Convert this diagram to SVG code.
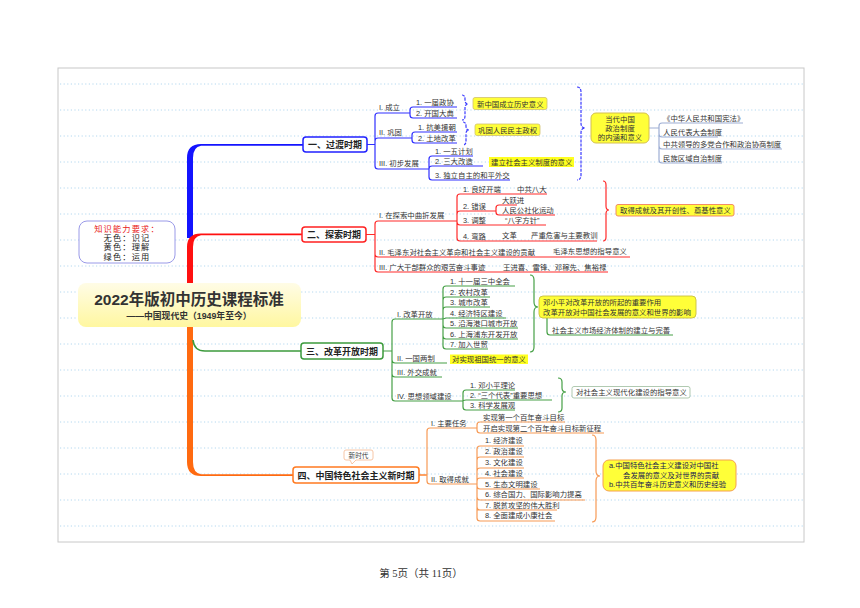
<svg xmlns="http://www.w3.org/2000/svg" width="860" height="608" viewBox="0 0 860 608">
<style>
text{font-family:"Liberation Sans","Noto Sans CJK SC",sans-serif}
.t{font-size:7.4px;fill:#333}
.n{font-size:9px;font-weight:bold;text-anchor:middle;fill:#222}
.sr{font-family:"Liberation Serif","Noto Sans CJK SC",serif}
.lg{font-size:8.2px;letter-spacing:1.2px;text-anchor:middle;fill:#222}
.grid{stroke:#b4d8ef;stroke-width:1;stroke-dasharray:1.2 2.4}
.cb{fill:none;stroke:#3030ff;stroke-width:1.2}
.cr{fill:none;stroke:#ff2a2a;stroke-width:1.2}
.cg{fill:none;stroke:#46a046;stroke-width:1.2}
.co{fill:none;stroke:#f79a55;stroke-width:1.2}
.cs{fill:none;stroke:#9eaed4;stroke-width:1.2}
.brb{fill:none;stroke:#3a3aff;stroke-width:1.2;stroke-dasharray:3 1.2}
.hl{fill:#ffff20}
</style>
<defs>
<linearGradient id="tg" x1="0" y1="0" x2="0" y2="1"><stop offset="0" stop-color="#fffce6"/><stop offset="1" stop-color="#fff7a0"/></linearGradient>
</defs>
<rect x="0" y="0" width="860" height="608" fill="#fff"/>
<rect x="58" y="68" width="746" height="474" fill="#fff" stroke="#c8c8c8" stroke-width="1"/>
<g id="grid">
<path class="grid" d="M60,84H803M60,110H803M60,136H803M60,162H803M60,188H803M60,214H803M60,240H803M60,266H803M60,292H803M60,318H803M60,344H803M60,370H803M60,396H803M60,422H803M60,448H803M60,474H803M60,500H803M60,526H803"/>
</g>
<g id="connectors">
<path fill="#1414ff" d="M187,238 L187,158 Q187,144 201,144 L303,144 L303,145.8 L201,145.8 Q193,147 193,158 L193,238 Z"/>
<path fill="#ff1010" d="M187,292 L187,247 Q187,233.5 201,233.5 L302,233.5 L302,235.3 L201,235.3 Q193,236.5 193,247 L193,292 Z"/>
<path fill="#ff6a10" d="M187,320 L187,462 Q187,476 201,476 L293,476 L293,474.2 L201,474.2 Q193,473 193,462 L193,320 Z"/>
<path fill="none" stroke="#3c9a3c" stroke-width="1.6" d="M193,340 Q194,351 205,351 H301"/>
<path class="cb" d="M367,144.5 H375 V116 Q375,113 378,113 H410 M367,144.5 H375 V141 Q375,138 378,138 H412 M367,144.5 H375 V166 Q375,169 378,169 H429"/>
<path class="cb" d="M410,113 V110 Q410,107 413,107 H457 M410,113 V115 Q410,118 413,118 H457"/>
<path class="cb" d="M412,138 V135 Q412,132 415,132 H457 M412,138 V140 Q412,143 415,143 H457"/>
<path class="cb" d="M429,169 V159 Q429,156 432,156 H473 M429,169 Q429,166 432,166 H483 M429,169 V177 Q429,180 432,180 H510"/>
<path class="brb" d="M462,95 Q465,95 465,99 V100 Q465,104 468,104 Q465,104 465,108 V116 Q465,120 462,120"/>
<path class="brb" d="M463,122 Q466,122 466,126 V126 Q466,130 469,130 Q466,130 466,134 V141 Q466,145 463,145"/>
<path class="brb" d="M577,87 Q581,87 581,92 V123 Q581,128 585,128 Q581,128 581,133 V175 Q581,180 577,180"/>
<path class="cs" d="M649,128 H659 V126 Q659,123 662,123 H743 M649,128 H659 V134 Q659,137 662,137 H718 M649,128 H659 V146 Q659,149 662,149 H782 M649,128 H659 V160 Q659,163 662,163 H722"/>
<path class="cr" d="M366,234.5 H375 V224 Q375,221 378,221 H457 M366,234.5 H375 V254 Q375,257 378,257 H630 M366,234.5 H375 V269 Q375,272 378,272 H608"/>
<path class="cr" d="M457,221 V197 Q457,194 460,194 H547 M457,221 V214 Q457,211 460,211 H490 M457,221 V222 Q457,225 460,225 H546 M457,221 V238 Q457,241 460,241 H597"/>
<path class="cr" d="M490,211 H496 V208 Q496,205 499,205 H517 M490,211 H496 V212 Q496,215 499,215 H555"/>
<path class="cr" d="M603,181 Q606,181 606,185 V206 Q606,210 609,210 Q606,210 606,214 V237 Q606,241 603,241"/>
<path class="cg" d="M383,351 H392 V322 Q392,319 395,319 H443 M383,351 H392 V360 Q392,363 395,363 H447 M383,351 H392 V374 Q392,377 395,377 H442 M383,351 H392 V398 Q392,401 395,401 H463"/>
<path class="cg" d="M443,319 V289 Q443,286 446,286 H515 M443,319 V300 Q443,297 446,297 H490 M443,319 V310 Q443,307 446,307 H490 M443,319 L446,318 H506 M443,319 V325 Q443,328 446,328 H518 M443,319 V336 Q443,339 446,339 H518 M443,319 V346 Q443,349 446,349 H488"/>
<path class="cg" d="M463,401 V393 Q463,390 466,390 H515 M463,401 Q463,400 466,400 H552 M463,401 V407 Q463,410 466,410 H515"/>
<path class="cg" d="M530,275 Q534,275 534,280 V302 Q534,307 538,307 Q534,307 534,312 V347 Q534,352 530,352"/>
<path class="cg" d="M547,318 V332 Q547,335 550,335 H673"/>
<path class="cg" d="M558,378 Q562,378 562,382 V388 Q562,392 566,392 Q562,392 562,396 V408 Q562,412 558,412"/>
<path fill="none" stroke="#ff7a20" stroke-width="1.4" d="M419,475 H427"/>
<path class="co" d="M427,475 V431 Q427,428 430,428 H477 M427,475 V481 Q427,484 430,484 H477"/>
<path class="co" d="M477,428 V425 Q477,422 480,422 H565 M477,428 V430 Q477,433 480,433 H604"/>
<path class="co" d="M477,484 V449 Q477,446 480,446 H524 M477,484 V460 Q477,457 480,457 H524 M477,484 V471 Q477,468 480,468 H524 M477,484 V481 Q477,478 480,478 H524 M477,484 V486 Q477,489 480,489 H540 M477,484 V497 Q477,500 480,500 H585 M477,484 V507 Q477,510 480,510 H557 M477,484 V518 Q477,521 480,521 H555"/>
<path class="co" d="M592,435 Q596,435 596,440 V471 Q596,476 600,476 Q596,476 596,481 V517 Q596,522 592,522"/>
</g>
<g id="legend">
<rect x="79" y="221" width="96" height="42" rx="8" fill="#fff" stroke="#9a9ae8" stroke-width="1"/>
<text class="sr lg" x="127" y="231.5" fill="#e82020" style="fill:#e82020">知识能力要求：</text>
<text class="sr lg" x="127" y="241">无色：识记</text>
<text class="sr lg" x="127" y="250.4">黄色：理解</text>
<text class="sr lg" x="127" y="259.8">绿色：运用</text>
</g>
<g id="root">
<rect x="78" y="283" width="223" height="44" rx="8" fill="url(#tg)"/>
<text x="189" y="305" font-size="15.5" font-weight="bold" fill="#333" text-anchor="middle">2022年版初中历史课程标准</text>
<text x="189" y="318.5" font-size="8.8" font-weight="bold" fill="#333" text-anchor="middle">——中国现代史（1949年至今）</text>
</g>
<g id="n1">
<rect x="303" y="137" width="64" height="15" rx="3" fill="#fff" stroke="#2020ff" stroke-width="1.5"/>
<text class="n" x="335" y="148">一、过渡时期</text>
</g>
<g id="n1-items">
<text class="t" x="379" y="110">I. 成立</text>
<text class="t" x="379" y="135">II. 巩固</text>
<text class="t" x="379" y="166">III. 初步发展</text>
<text class="t" x="416" y="104.5">1. 一届政协</text>
<text class="t" x="416" y="115.5">2. 开国大典</text>
<text class="t" x="418" y="129.5">1. 抗美援朝</text>
<text class="t" x="418" y="140.5">2. 土地改革</text>
<text class="t" x="435" y="153.5">1. 一五计划</text>
<text class="t" x="435" y="163.5">2. 三大改造</text>
<text class="t" x="435" y="177.5">3. 独立自主的和平外交</text>
<rect class="hl" x="489" y="157" width="85" height="10"/>
<text class="t" x="491" y="165">建立社会主义制度的意义</text>
<rect x="473" y="97.5" width="74" height="12" rx="2" fill="#ffff38" stroke="#d0c070" stroke-width="0.8"/>
<text class="t" x="477" y="106.5">新中国成立历史意义</text>
<rect x="475" y="124" width="65" height="11.5" rx="2" fill="#ffff38" stroke="#d0c070" stroke-width="0.8"/>
<text class="t" x="478" y="132.8">巩固人民民主政权</text>
</g>
<g id="n1-system">
<rect x="591" y="113" width="58" height="30" rx="5" fill="#ffff38" stroke="#d4c050" stroke-width="1"/>
<text class="t" x="620" y="122" text-anchor="middle">当代中国</text>
<text class="t" x="620" y="131" text-anchor="middle">政治制度</text>
<text class="t" x="620" y="140" text-anchor="middle">的内涵和意义</text>
<text class="t" x="663" y="120.8">《中华人民共和国宪法》</text>
<text class="t" x="663" y="134.5">人民代表大会制度</text>
<text class="t" x="663" y="146.5">中共领导的多党合作和政治协商制度</text>
<text class="t" x="663" y="160.5">民族区域自治制度</text>
</g>
<g id="n2">
<rect x="302" y="227" width="64" height="15" rx="3" fill="#fff" stroke="#ff2020" stroke-width="1.5"/>
<text class="n" x="334" y="238">二、探索时期</text>
</g>
<g id="n2-items">
<text class="t" x="379" y="218">I. 在探索中曲折发展</text>
<text class="t" x="463" y="191.5">1. 良好开端</text>
<text class="t" x="517" y="191.5">中共八大</text>
<text class="t" x="463" y="208.5">2. 错误</text>
<text class="t" x="502" y="202.5">大跃进</text>
<text class="t" x="502" y="212.5">人民公社化运动</text>
<text class="t" x="463" y="222.5">3. 调整</text>
<text class="t" x="505" y="222.5">“八字方针”</text>
<text class="t" x="463" y="238.5">4. 弯路</text>
<text class="t" x="502" y="237.5">文革</text>
<text class="t" x="531" y="237.5">严重危害与主要教训</text>
<text class="t" x="379" y="254.5">II. 毛泽东对社会主义革命和社会主义建设的贡献</text>
<text class="t" x="553" y="254">毛泽东思想的指导意义</text>
<text class="t" x="379" y="269.5">III. 广大干部群众的艰苦奋斗事迹</text>
<text class="t" x="503" y="269.5">王进喜、雷锋、邓稼先、焦裕禄</text>
<rect x="616" y="204.5" width="118" height="11.5" rx="2" fill="#ffff38" stroke="#f08060" stroke-width="0.9"/>
<text class="t" x="620" y="213.3">取得成就及其开创性、奠基性意义</text>
</g>
<g id="n3">
<rect x="301" y="343" width="82" height="16" rx="3" fill="#fff" stroke="#3c9a3c" stroke-width="1.5"/>
<text class="n" x="342" y="354.5">三、改革开放时期</text>
</g>
<g id="n3-items">
<text class="t" x="397" y="316.5">I. 改革开放</text>
<text class="t" x="450" y="283.5">1. 十一届三中全会</text>
<text class="t" x="450" y="294.5">2. 农村改革</text>
<text class="t" x="450" y="304.5">3. 城市改革</text>
<text class="t" x="450" y="315.5">4. 经济特区建设</text>
<text class="t" x="450" y="325.5">5. 沿海港口城市开放</text>
<text class="t" x="450" y="336.5">6. 上海浦东开发开放</text>
<text class="t" x="450" y="346.5">7. 加入世贸</text>
<rect x="539" y="296" width="157" height="22" rx="4" fill="#ffff38" stroke="#c8c040" stroke-width="0.9"/>
<text class="t" x="543" y="305">邓小平对改革开放的所起的重要作用</text>
<text class="t" x="543" y="315">改革开放对中国社会发展的意义和世界的影响</text>
<text class="t" x="552" y="332.5">社会主义市场经济体制的建立与完善</text>
<text class="t" x="397" y="360.5">II. 一国两制</text>
<rect class="hl" x="450" y="354.5" width="78" height="9.5"/>
<text class="t" x="452" y="362">对实现祖国统一的意义</text>
<text class="t" x="397" y="374.5">III. 外交成就</text>
<text class="t" x="397" y="398.5">IV. 思想领域建设</text>
<text class="t" x="470" y="387.5">1. 邓小平理论</text>
<text class="t" x="470" y="397.5">2. “三个代表”重要思想</text>
<text class="t" x="470" y="407.5">3. 科学发展观</text>
<rect x="572" y="386.5" width="118" height="11.5" rx="2" fill="#fff" stroke="#a8c4a8" stroke-width="0.9"/>
<text class="t" x="576" y="395.3">对社会主义现代化建设的指导意义</text>
</g>
<g id="n4">
<rect x="293" y="467" width="126" height="16" rx="3" fill="#fff" stroke="#ff7a20" stroke-width="1.5"/>
<text class="n" x="356" y="478.5">四、中国特色社会主义新时期</text>
<path d="M346,450 H371 Q373,450 373,452 V458 Q373,460 371,460 H356 L352,464 L350,460 H346 Q344,460 344,458 V452 Q344,450 346,450 Z" fill="#fff" stroke="#f5b890" stroke-width="0.8"/>
<text x="358.5" y="457.8" font-size="6.6" fill="#444" text-anchor="middle">新时代</text>
</g>
<g id="n4-items">
<text class="t" x="431" y="425.5">I. 主要任务</text>
<text class="t" x="483" y="419.5">实现第一个百年奋斗目标</text>
<text class="t" x="483" y="430.5">开启实现第二个百年奋斗目标新征程</text>
<text class="t" x="431" y="481.5">II. 取得成就</text>
<text class="t" x="485" y="443">1. 经济建设</text>
<text class="t" x="485" y="454">2. 政治建设</text>
<text class="t" x="485" y="465">3. 文化建设</text>
<text class="t" x="485" y="475.5">4. 社会建设</text>
<text class="t" x="485" y="486.5">5. 生态文明建设</text>
<text class="t" x="485" y="497">6. 综合国力、国际影响力提高</text>
<text class="t" x="485" y="507.5">7. 脱贫攻坚的伟大胜利</text>
<text class="t" x="485" y="518">8. 全面建成小康社会</text>
<rect x="603" y="460" width="133" height="31" rx="6" fill="#ffff38" stroke="#f5a050" stroke-width="1"/>
<text class="t" x="609" y="468" style="fill:#1a1a50">a.中国特色社会主义建设对中国社</text>
<text class="t" x="623" y="477.5" style="fill:#1a1a50">会发展的意义及对世界的贡献</text>
<text class="t" x="609" y="487" style="fill:#1a1a50">b.中共百年奋斗历史意义和历史经验</text>
</g>
<text class="sr" x="421" y="577" font-size="10.5" fill="#333" text-anchor="middle">第 5页（共 11页）</text>
</svg>
